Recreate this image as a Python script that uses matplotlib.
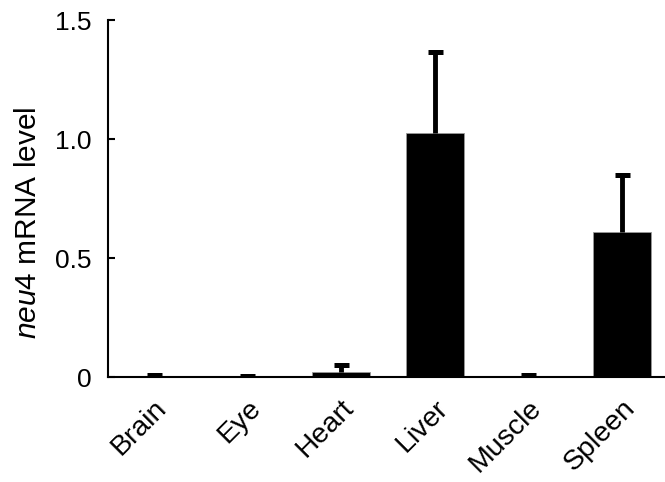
import matplotlib
matplotlib.use("Agg")
import matplotlib.pyplot as plt
import numpy as np

matplotlib.rcParams.update(
    {
        "font.family": "Liberation Sans",
        "mathtext.fontset": "custom",
        "mathtext.rm": "Liberation Sans",
        "mathtext.it": "Liberation Sans:italic",
    }
)

tissues = ["Brain", "Eye", "Heart", "Liver", "Muscle", "Spleen"]
levels = [0.002, 0.001, 0.022, 1.025, 0.002, 0.61]
errors = [0.006, 0.004, 0.028, 0.34, 0.006, 0.24]

fig = plt.figure(figsize=(6.65, 4.82), dpi=100)
ax = fig.add_axes([0.1624, 0.2178, 0.8376, 0.7407])

x = np.arange(len(tissues))
ax.bar(x, levels, 0.62, color="black", edgecolor="#999999", linewidth=0.6)
_, caps, _ = ax.errorbar(x, levels, yerr=[np.zeros(len(errors)), errors], fmt="none",
                         ecolor="black", elinewidth=3.5, capsize=5.4, capthick=3.6)
# only the upper cap is drawn in the original
caps[0].set_visible(False)

ax.set_xlim(-0.49, 5.46)
ax.set_ylim(0, 1.5)
ax.set_yticks([0, 0.5, 1.0, 1.5], ["0", "0.5", "1.0", "1.5"])
ax.set_xticks(x)
ax.set_xticklabels(tissues, rotation=45, ha="right", rotation_mode="anchor")

for side in ["top", "right"]:
    ax.spines[side].set_visible(False)
for side in ["left", "bottom"]:
    ax.spines[side].set_linewidth(1.5)

ax.tick_params(axis="y", direction="in", length=5, width=1.5, labelsize=19, pad=12)
ax.tick_params(axis="x", length=0, labelsize=20.5, pad=13)
ax.set_ylabel(r"$\mathit{neu4}$ mRNA level", fontsize=21.5)
ax.yaxis.set_label_coords(-0.118, 0.431)

fig.savefig("out.png", dpi=100)
